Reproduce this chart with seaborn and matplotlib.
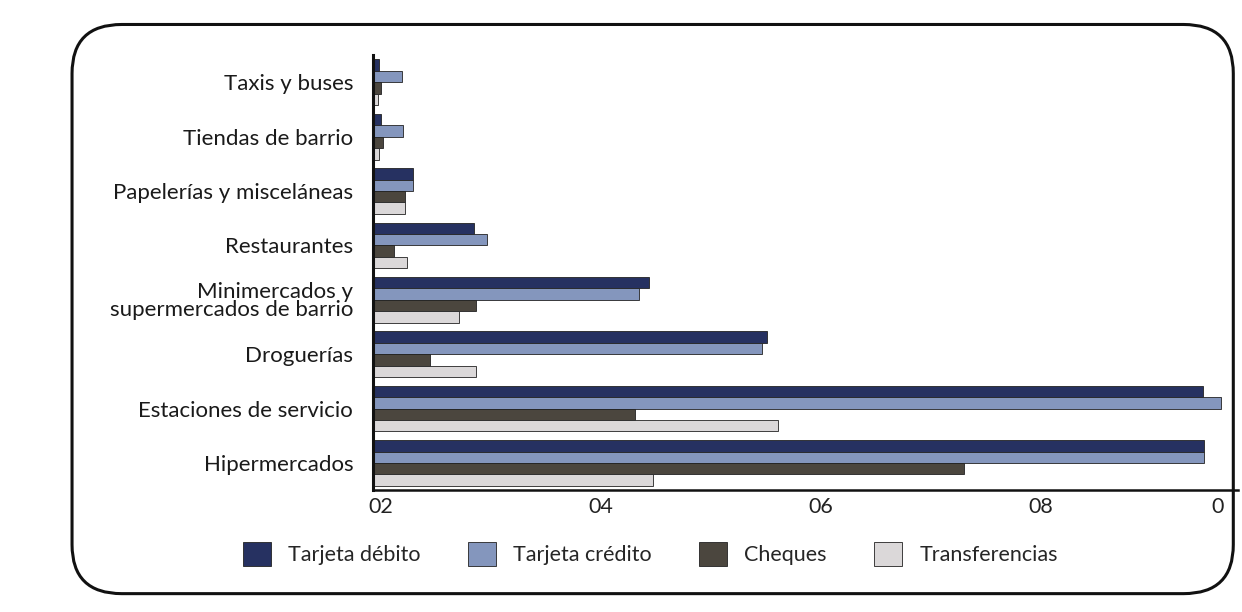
import pandas as pd
import matplotlib.pyplot as plt
import seaborn as sns
from matplotlib.patches import FancyBboxPatch

# ---- data -------------------------------------------------------------------
categories = ["Taxis y buses", "Tiendas de barrio", "Papelerías y misceláneas",
              "Restaurantes", "Minimercados y\nsupermercados de barrio",
              "Droguerías", "Estaciones de servicio", "Hipermercados"]
methods = ["Tarjeta débito", "Tarjeta crédito", "Cheques", "Transferencias"]

debito        = [19.9, 20.1, 23.0, 28.5, 44.4, 55.1, 94.7, 94.8]
credito       = [22.0, 22.1, 23.0, 29.7, 43.5, 54.7, 96.3, 94.8]
cheques       = [20.1, 20.2, 22.2, 21.2, 28.7, 24.5, 43.1, 73.0]
transferencia = [19.8, 19.9, 22.2, 22.4, 27.1, 28.7, 56.1, 44.8]

tick_values = [20, 40, 60, 80, 96]
tick_labels = ["02", "04", "06", "08", "0"]

colors = ["#1c2b6b", "#7b93c6", "#4d473c", "#dcd7d9"]

rows = []
for serie, vals in zip(methods, [debito, credito, cheques, transferencia]):
    for cat, v in zip(categories, vals):
        rows.append({"cat": cat, "metodo": serie, "valor": v})
df = pd.DataFrame(rows)

sns.set_style("white")
plt.rcParams['font.family'] = ['Lato', 'DejaVu Sans']

fig = plt.figure(figsize=(12.42, 6.12), dpi=100)
ax = fig.add_axes([0.30, 0.199, 0.697, 0.711])

sns.barplot(data=df, y="cat", x="valor", hue="metodo", order=categories,
            hue_order=methods, palette=colors, orient="h", width=0.84,
            edgecolor="#222222", linewidth=0.6, ax=ax)

ax.set_xlim(19.3, 97.9)
ax.set_xticks(tick_values)
ax.set_xticklabels(tick_labels, fontsize=15.5, color="#222222")
ax.tick_params(axis="both", length=0)
ax.tick_params(axis="y", pad=14, labelsize=16, labelcolor="#1a1a1a")
ax.tick_params(axis="x", pad=5)
for lab in ax.get_yticklabels():
    lab.set_linespacing(0.9)
ax.set_xlabel("")
ax.set_ylabel("")
sns.despine(ax=ax, top=True, right=True)
ax.spines["left"].set_linewidth(2.2)
ax.spines["left"].set_color("#111111")
ax.spines["bottom"].set_linewidth(1.8)
ax.spines["bottom"].set_color("#111111")

# legend below the chart
handles, labels = ax.get_legend_handles_labels()
ax.legend_.remove()
fig.legend(handles, labels, loc="center left", bbox_to_anchor=(0.18, 0.095),
           ncol=4, frameon=False, fontsize=15.5, handlelength=1.3,
           handleheight=1.3, handletextpad=0.8, columnspacing=2.2)

# rounded frame around the whole chart
frame = FancyBboxPatch((0.058, 0.03), 0.935, 0.93, transform=fig.transFigure,
                       boxstyle="round,pad=0,rounding_size=0.04",
                       fill=False, edgecolor="#111111", linewidth=2.2,
                       mutation_aspect=2.0)
fig.patches.append(frame)

fig.savefig("out.png", dpi=100)
